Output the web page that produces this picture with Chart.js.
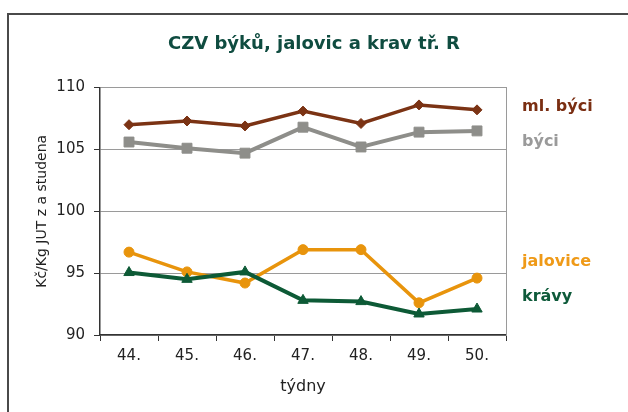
<!DOCTYPE html>
<html>
<head>
<meta charset="utf-8">
<script src="https://cdn.jsdelivr.net/npm/chart.js@4/dist/chart.umd.min.js"></script>
<style>
  html, body { margin: 0; padding: 0; background: #fff; }
  #wrap { position: relative; width: 628px; height: 412px; overflow: hidden; }
  #frame { position: absolute; left: 7px; top: 13px; width: 700px; height: 500px; border: 2px solid #4a4a4a; box-sizing: border-box; }
  #c { position: absolute; left: 0; top: 0; }
</style>
</head>
<body>
<div id="wrap">
  <div id="frame"></div>
  <canvas id="c" width="628" height="412"></canvas>
</div>
<script>
const weeks = ['44.', '45.', '46.', '47.', '48.', '49.', '50.'];
const mlByci = [107.0, 107.3, 106.9, 108.1, 107.1, 108.6, 108.2];
const byci = [105.6, 105.1, 104.7, 106.8, 105.2, 106.4, 106.5];
const jalovice = [96.7, 95.1, 94.2, 96.9, 96.9, 92.6, 94.6];
const kravy = [95.05, 94.5, 95.1, 92.8, 92.7, 91.7, 92.1];
const yTicks = [90, 95, 100, 105, 110];

// series names shown at the right, with the value level they sit at
const sideLabels = [
  { text: 'ml. býci', color: '#7a2e12', at: 108.45 },
  { text: 'býci', color: '#9a9a9a', at: 105.6 },
  { text: 'jalovice', color: '#ef9a18', at: 95.95 },
  { text: 'krávy', color: '#0e5a3a', at: 93.1 }
];

Chart.defaults.font.family = '"DejaVu Sans", Verdana, sans-serif';
Chart.defaults.color = '#222';

function series(label, values, color, style, radius, width) {
  return {
    label: label,
    data: values,
    borderColor: color,
    backgroundColor: color,
    pointStyle: style,
    pointRadius: radius,
    pointHoverRadius: radius,
    pointBorderWidth: 1,
    borderWidth: width,
    tension: 0,
    yAxisID: 'y'
  };
}

const sideLabelPlugin = {
  id: 'sideLabels',
  afterDraw(chart) {
    const ctx = chart.ctx;
    const y = chart.scales.y;
    ctx.save();
    ctx.font = 'bold 16px "DejaVu Sans", Verdana, sans-serif';
    ctx.textAlign = 'left';
    ctx.textBaseline = 'middle';
    sideLabels.forEach(l => {
      ctx.fillStyle = l.color;
      ctx.fillText(l.text, chart.chartArea.right + 16, y.getPixelForValue(l.at));
    });
    ctx.restore();
  }
};

new Chart(document.getElementById('c').getContext('2d'), {
  type: 'line',
  data: {
    labels: weeks,
    datasets: [
      series('krávy', kravy, '#0d5a36', 'triangle', 6, 4),
      series('jalovice', jalovice, '#e8940c', 'circle', 5, 3.5),
      series('býci', byci, '#8e8e8a', 'rect', 7, 4),
      series('ml. býci', mlByci, '#7b3314', 'rectRot', 5, 3.5)
    ]
  },
  options: {
    responsive: false,
    animation: false,
    layout: { padding: { top: 0, right: 0, bottom: 0, left: 0 } },
    plugins: {
      legend: { display: false },
      tooltip: { enabled: false },
      title: {
        display: true,
        text: 'CZV býků, jalovic a krav tř. R',
        color: '#0f4c40',
        font: { size: 18, weight: 'bold' },
        padding: { top: 34, bottom: 32 }
      }
    },
    scales: {
      x: {
        offset: true,
        grid: { display: true, drawOnChartArea: false, offset: true, tickLength: 6, tickColor: '#333' },
        border: { display: true, color: '#333', width: 1.5 },
        ticks: { font: { size: 15 }, padding: 6, color: '#222' },
        title: { display: true, text: 'týdny', font: { size: 16 }, color: '#222', padding: { top: 4, bottom: 16 } },
        afterFit(scale) { scale.height = 77; }
      },
      y: {
        min: 90,
        max: 110,
        afterBuildTicks(scale) { scale.ticks = yTicks.map(v => ({ value: v })); },
        grid: { color: '#9a9a9a', lineWidth: 1, tickLength: 6, tickColor: '#333' },
        border: { display: true, color: '#333', width: 1.5 },
        ticks: { font: { size: 15 }, padding: 9, color: '#222' },
        title: { display: true, text: 'Kč/Kg JUT z a studena', font: { size: 14 }, color: '#222', padding: { top: 34, bottom: 0 } },
        afterFit(scale) { scale.width = 100; }
      },
      yRight: {
        position: 'right',
        min: 90,
        max: 110,
        grid: { display: false, drawOnChartArea: false },
        border: { display: true, color: '#9a9a9a', width: 1 },
        ticks: { display: false },
        afterFit(scale) { scale.width = 122; }
      }
    }
  },
  plugins: [sideLabelPlugin]
});
</script>
</body>
</html>
